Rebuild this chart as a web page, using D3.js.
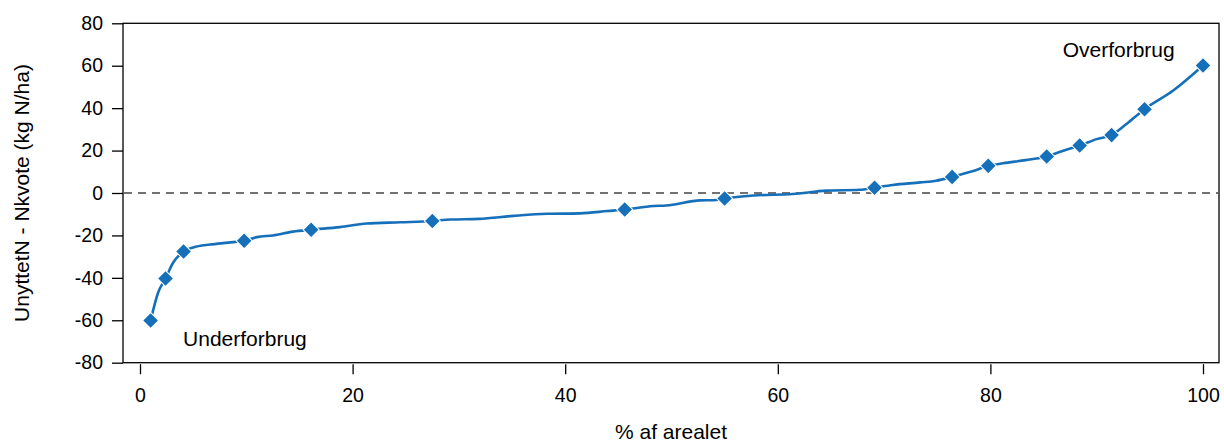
<!DOCTYPE html>
<html>
<head>
<meta charset="utf-8">
<script src="https://cdn.jsdelivr.net/npm/d3@7"></script>
<style>
  html, body { margin: 0; padding: 0; background: #fff; }
  svg { display: block; font-family: "Liberation Sans", Arial, Helvetica, sans-serif; }
</style>
</head>
<body>
<svg id="chart" width="1224" height="443"></svg>
<script>
// Cumulative curve: share of area (%) vs. surplus of used N over the N quota
const linePct = [1.0, 1.7, 2.4, 3.1, 4.1, 5.0, 6.6, 8.3, 9.8, 11.0, 12.5, 14.4, 16.1, 18.8, 21.3, 24.5,
  27.5, 29.2, 31.9, 35.1, 38.3, 41.4, 44.0, 45.6, 48.3, 49.5, 52.7, 53.9, 55.0, 57.7, 61.4, 64.6,
  67.7, 69.1, 70.8, 73.4, 74.9, 76.4, 78.3, 79.8, 81.2, 83.3, 85.3, 86.5, 88.4, 90.0, 91.4, 92.8,
  94.5, 97.2, 100.0];
const lineValue = [-60.1, -47.0, -40.3, -33.0, -27.6, -25.7, -24.3, -23.4, -22.5, -20.8, -20.0, -18.2, -17.3, -16.1, -14.4, -13.8,
  -13.2, -12.5, -12.2, -10.8, -9.8, -9.6, -8.5, -7.8, -6.1, -5.9, -3.5, -3.4, -2.6, -1.2, -0.5, 1.1,
  1.5, 2.5, 3.8, 5.0, 5.8, 7.6, 10.2, 12.8, 14.0, 15.5, 17.2, 19.3, 22.4, 25.4, 27.3, 32.5,
  39.5, 48.3, 60.1];

// Highlighted points along the curve
const markerPct = [1.0, 2.4, 4.1, 9.8, 16.1, 27.5, 45.6, 55.0, 69.1, 76.4, 79.8, 85.3, 88.4, 91.4, 94.5, 100.0];
const markerValue = [-60.1, -40.3, -27.6, -22.5, -17.3, -13.2, -7.8, -2.6, 2.5, 7.6, 12.8, 17.2, 22.4, 27.3, 39.5, 60.1];

const xTicks = [0, 20, 40, 60, 80, 100];
const yTicks = [-80, -60, -40, -20, 0, 20, 40, 60, 80];

const annotations = [
  { text: "Underforbrug", pct: 4.05, value: -71.9 },
  { text: "Overforbrug", pct: 86.8, value: 63.9 }
];

const xTitle = "% af arealet";
const yTitle = "UnyttetN - Nkvote (kg N/ha)";

const blue = "#1670b9";
const svg = d3.select("#chart");

const box = { left: 123, right: 1219, top: 23.3, bottom: 362.7 };
const x = d3.scaleLinear().domain([0, 100]).range([140, 1203]);
const y = d3.scaleLinear().domain([-80, 80]).range([box.bottom, box.top]);
const plainNumber = d => String(d);

// Plot frame
svg.append("rect")
  .attr("x", box.left).attr("y", box.top)
  .attr("width", box.right - box.left).attr("height", box.bottom - box.top)
  .attr("fill", "none").attr("stroke", "#000").attr("stroke-width", 1.3);

// Y axis
const yAxis = svg.append("g")
  .attr("transform", `translate(${box.left},0)`)
  .call(d3.axisLeft(y).tickValues(yTicks).tickSize(11).tickPadding(9).tickFormat(plainNumber));
yAxis.select(".domain").remove();
yAxis.selectAll("line").attr("stroke", "#000").attr("stroke-width", 1.3);
yAxis.selectAll("text").attr("font-size", 19.5).attr("fill", "#000")
  .attr("font-family", "'Liberation Sans', Arial, sans-serif");

// X axis (ticks detached below the frame)
const xAxis = svg.append("g")
  .attr("transform", `translate(0,${box.bottom + 1.5})`)
  .call(d3.axisBottom(x).tickValues(xTicks).tickSize(10).tickPadding(14).tickFormat(plainNumber));
xAxis.select(".domain").remove();
xAxis.selectAll("line").attr("stroke", "#000").attr("stroke-width", 1.3);
xAxis.selectAll("text").attr("font-size", 19.5).attr("fill", "#000")
  .attr("font-family", "'Liberation Sans', Arial, sans-serif");

// Zero reference line
svg.append("line")
  .attr("x1", box.left + 1).attr("x2", box.right - 1)
  .attr("y1", y(0)).attr("y2", y(0))
  .attr("stroke", "#444").attr("stroke-width", 1.4)
  .attr("stroke-dasharray", "8,6");

// Curve
const pts = linePct.map((p, i) => [p, lineValue[i]]);
const line = d3.line().x(d => x(d[0])).y(d => y(d[1])).curve(d3.curveMonotoneX);
svg.append("path")
  .datum(pts)
  .attr("d", line)
  .attr("fill", "none")
  .attr("stroke", blue)
  .attr("stroke-width", 2.6)
  .attr("stroke-linejoin", "round");

// Diamond markers
const diamond = d3.symbol().type(d3.symbolSquare).size(128);
svg.append("g").selectAll("path")
  .data(markerPct.map((p, i) => [p, markerValue[i]]))
  .join("path")
  .attr("d", diamond)
  .attr("transform", d => `translate(${x(d[0])},${y(d[1])}) rotate(45)`)
  .attr("fill", blue)
  .attr("stroke", "#fff")
  .attr("stroke-width", 1);

// Annotations
svg.append("g").selectAll("text")
  .data(annotations)
  .join("text")
  .attr("x", d => x(d.pct))
  .attr("y", d => y(d.value))
  .attr("font-size", 21)
  .attr("fill", "#000")
  .text(d => d.text);

// Axis titles
svg.append("text")
  .attr("x", (box.left + box.right) / 2)
  .attr("y", 439)
  .attr("text-anchor", "middle")
  .attr("font-size", 21)
  .text(xTitle);

svg.append("text")
  .attr("transform", `translate(29,${(box.top + box.bottom) / 2}) rotate(-90)`)
  .attr("text-anchor", "middle")
  .attr("font-size", 21)
  .text(yTitle);
</script>
</body>
</html>
